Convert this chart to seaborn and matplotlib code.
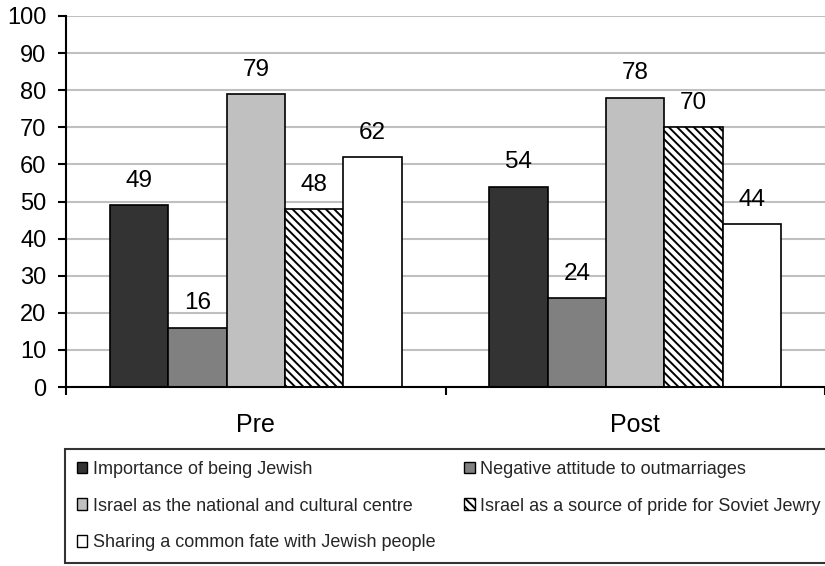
import matplotlib
matplotlib.use("Agg")
import matplotlib.pyplot as plt
from matplotlib.patches import Patch
import seaborn as sns
import pandas as pd

periods = ["Pre", "Post"]
items = [
    "Importance of being Jewish",
    "Negative attitude to outmarriages",
    "Israel as the national and cultural centre",
    "Israel as a source of pride for Soviet Jewry",
    "Sharing a common fate with Jewish people",
]
pre_values = [49, 16, 79, 48, 62]
post_values = [54, 24, 78, 70, 44]
y_ticks = [0, 10, 20, 30, 40, 50, 60, 70, 80, 90, 100]

fills = ["#333333", "#808080", "#C0C0C0", "#FFFFFF", "#FFFFFF"]
hatches = ["", "", "", "\\\\\\\\", ""]

sns.set_theme(style="white")
plt.rcParams["font.family"] = ["Liberation Sans", "DejaVu Sans"]
plt.rcParams["hatch.linewidth"] = 1.4
plt.rcParams["hatch.color"] = "#222222"

rows = []
for period, vals in zip(periods, [pre_values, post_values]):
    for item, v in zip(items, vals):
        rows.append({"period": period, "item": item, "value": v})
df = pd.DataFrame(rows)

fig = plt.figure(figsize=(8.25, 5.66), dpi=100)
ax = fig.add_axes([66 / 825, 1 - 387 / 566, 1 - 66 / 825, (387 - 16) / 566])

sns.barplot(
    data=df, x="period", y="value", hue="item", order=periods, hue_order=items,
    palette=fills, width=0.77, gap=0, saturation=1, edgecolor="black",
    linewidth=1.2, legend=False, ax=ax, errorbar=None,
)

for container, h in zip(ax.containers, hatches):
    for bar in container:
        bar.set_hatch(h)
        bar.set_edgecolor("black")
    ax.bar_label(container, padding=9.5, fontsize=17.5, color="black")

ax.set_ylim(0, 100)
ax.set_yticks(y_ticks)
ax.set_xlim(-0.5, 1.482)
ax.set_xlabel("")
ax.set_ylabel("")

ax.yaxis.grid(True, color="#C0C0C0", linewidth=1.5)
ax.set_axisbelow(True)
for side in ["top", "right"]:
    ax.spines[side].set_visible(False)
for side in ["left", "bottom"]:
    ax.spines[side].set_color("black")
    ax.spines[side].set_linewidth(1.5)

ax.tick_params(axis="y", which="major", left=True, direction="out", length=6,
               width=1.5, color="black", labelsize=17, pad=8, labelcolor="black")
ax.set_xticks([0, 1])
ax.set_xticklabels(periods)
ax.set_xticks([-0.5, 0.5, 1.5], minor=True)
ax.tick_params(axis="x", which="major", bottom=False, labelsize=18, pad=13,
               labelcolor="black")
ax.tick_params(axis="x", which="minor", bottom=True, direction="out", length=6,
               width=1.5, color="black")

handles = [Patch(facecolor=f, edgecolor="black", hatch=h, linewidth=1.0)
           for f, h in zip(fills, hatches)]
order = [0, 2, 4, 1, 3]
leg = fig.legend(
    [handles[i] for i in order], [items[i] for i in order],
    ncol=2, loc="lower left",
    bbox_to_anchor=(65 / 825, 3 / 566, (832 - 65) / 825, (563 - 449) / 566),
    mode="expand", fontsize=13, frameon=True, fancybox=False,
    edgecolor="black", handlelength=0.6, handleheight=0.6, handletextpad=0.3,
    labelspacing=1.1, borderpad=0.64, borderaxespad=0,
)
leg.get_frame().set_linewidth(1.5)

fig.savefig("out.png", dpi=100)
